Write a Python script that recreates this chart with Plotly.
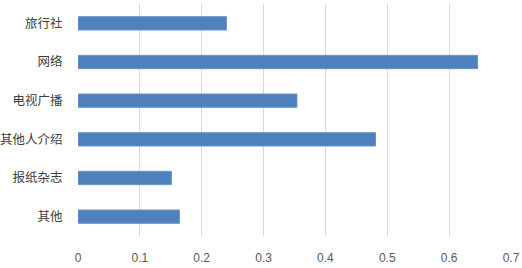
import plotly.graph_objects as go

categories = ["旅行社", "网络", "电视广播", "其他人介绍", "报纸杂志", "其他"]
values = [0.240, 0.646, 0.354, 0.481, 0.151, 0.164]
x_ticks = [0, 0.1, 0.2, 0.3, 0.4, 0.5, 0.6, 0.7]
x_tick_labels = ["0", "0.1", "0.2", "0.3", "0.4", "0.5", "0.6", "0.7"]

fig = go.Figure(go.Bar(
    x=values,
    y=categories,
    orientation="h",
    marker=dict(color="#4f81bd", line=dict(color="#6b94c8", width=1)),
))

fig.update_layout(
    width=522, height=268,
    margin=dict(l=78, r=11, t=4, b=32),
    paper_bgcolor="white", plot_bgcolor="white",
    bargap=0.655,
    showlegend=False,
    font=dict(family="Noto Sans CJK SC, Liberation Sans, sans-serif", color="#595959"),
)
fig.update_xaxes(
    range=[0, 0.7], automargin=False,
    tickvals=x_ticks, ticktext=x_tick_labels,
    showgrid=True, gridcolor="#d9d9d9", gridwidth=1,
    zeroline=False, showline=False,
    tickfont=dict(size=12, color="#595959", family="Liberation Sans, Noto Sans, sans-serif"),
    ticks="outside", ticklen=11, tickcolor="rgba(0,0,0,0)",
)
fig.update_yaxes(
    categoryorder="array", categoryarray=categories[::-1], automargin=False,
    showgrid=False, zeroline=False, showline=False,
    tickfont=dict(size=12.5, color="#404040", family="Noto Sans CJK SC"),
    ticks="outside", ticklen=12, tickcolor="rgba(0,0,0,0)",
)

fig.write_html("out.html", config={"displayModeBar": False},
               post_script="document.body.style.margin='0';document.body.style.overflow='hidden';")
